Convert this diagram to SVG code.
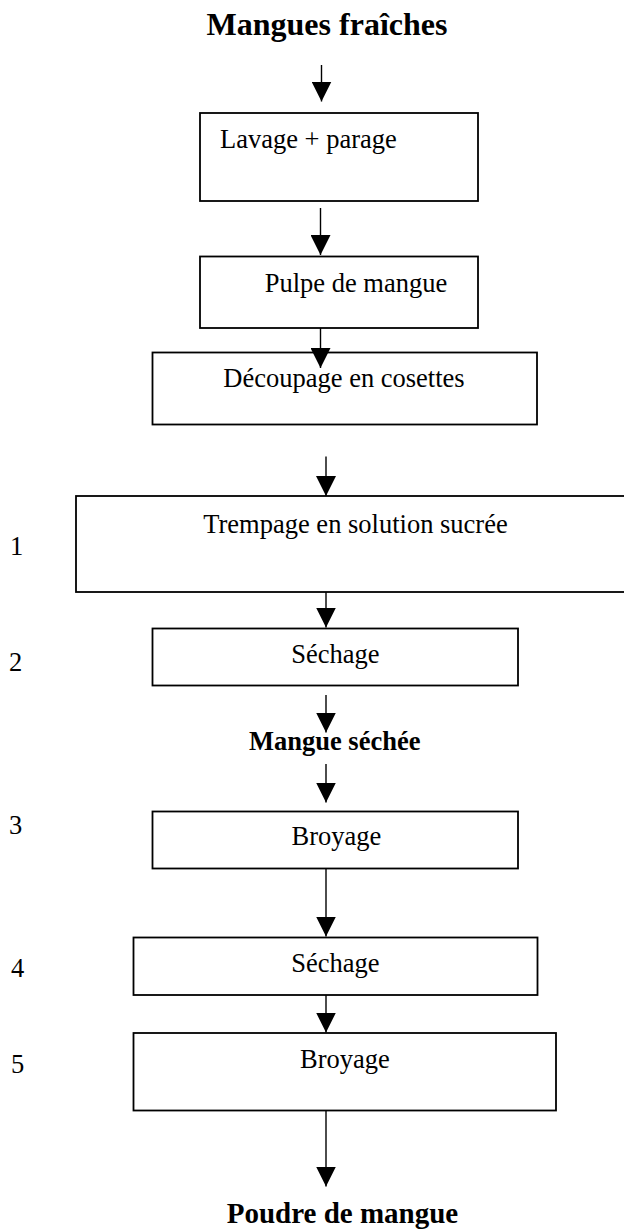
<svg xmlns="http://www.w3.org/2000/svg" width="624" height="1231" viewBox="0 0 624 1231">
<style>
text{font-family:"Liberation Serif","Times New Roman",serif;fill:#000}
.t{font-size:26.5px}
.c{text-anchor:middle}
.b{font-weight:bold}
.box{fill:#fff;stroke:#000;stroke-width:1.8}
.arr{stroke:#000;stroke-width:1.4;fill:none;marker-end:url(#ah)}
</style>
<defs>
<marker id="ah" viewBox="0 0 20 20" refX="20" refY="10" markerWidth="20" markerHeight="20" markerUnits="userSpaceOnUse" orient="auto">
<path d="M0,0 L20,10 L0,20 z" fill="#000"/>
</marker>
</defs>
<rect width="624" height="1231" fill="#fff"/>
<g id="title"><text class="b c" x="327" y="35" font-size="32">Mangues fraîches</text></g>
<g id="n1"><rect class="box" x="200" y="113" width="278" height="88"/><text class="t" x="220" y="148">Lavage + parage</text></g>
<g id="n2"><rect class="box" x="200" y="256.5" width="278" height="71.5"/><text class="t c" x="356" y="291.5">Pulpe de mangue</text></g>
<g id="n3"><rect class="box" x="152.5" y="352.5" width="384.5" height="72"/><text class="t c" x="344" y="386.5">Découpage en cosettes</text></g>
<g id="n4"><rect class="box" x="76" y="496" width="560" height="96"/><text class="t c" x="355.5" y="533">Trempage en solution sucrée</text></g>
<g id="n5"><rect class="box" x="152.5" y="628.5" width="365.5" height="57"/><text class="t c" x="335.3" y="663.3">Séchage</text></g>
<g id="mid"><text class="b c" x="334.7" y="750" font-size="26.5">Mangue séchée</text></g>
<g id="n6"><rect class="box" x="152.5" y="811.5" width="365.5" height="57"/><text class="t c" x="336.5" y="845">Broyage</text></g>
<g id="n7"><rect class="box" x="133.5" y="937.5" width="404" height="57.5"/><text class="t c" x="335.3" y="971.7">Séchage</text></g>
<g id="n8"><rect class="box" x="133.5" y="1033" width="422.5" height="77.5"/><text class="t c" x="345" y="1068.3">Broyage</text></g>
<g id="end"><text class="b c" x="342.5" y="1223" font-size="29">Poudre de mangue</text></g>
<g id="steps">
<text class="t" x="10" y="555">1</text>
<text class="t" x="9" y="670.7">2</text>
<text class="t" x="9" y="834">3</text>
<text class="t" x="11" y="977.3">4</text>
<text class="t" x="11" y="1073.3">5</text>
</g>
<g id="connectors">
<line class="arr" x1="321.5" y1="65" x2="321.5" y2="101.5"/>
<line class="arr" x1="320.5" y1="208" x2="320.5" y2="255"/>
<line class="arr" x1="320.5" y1="328" x2="320.5" y2="368"/>
<line class="arr" x1="326" y1="456.5" x2="326" y2="496"/>
<line class="arr" x1="326" y1="592" x2="326" y2="627.5"/>
<line class="arr" x1="326" y1="695" x2="326" y2="732.5"/>
<line class="arr" x1="326" y1="764" x2="326" y2="802.5"/>
<line class="arr" x1="326" y1="868.5" x2="326" y2="936.5"/>
<line class="arr" x1="326" y1="995" x2="326" y2="1032.5"/>
<line class="arr" x1="326" y1="1110.5" x2="326" y2="1186.5"/>
</g>
</svg>
